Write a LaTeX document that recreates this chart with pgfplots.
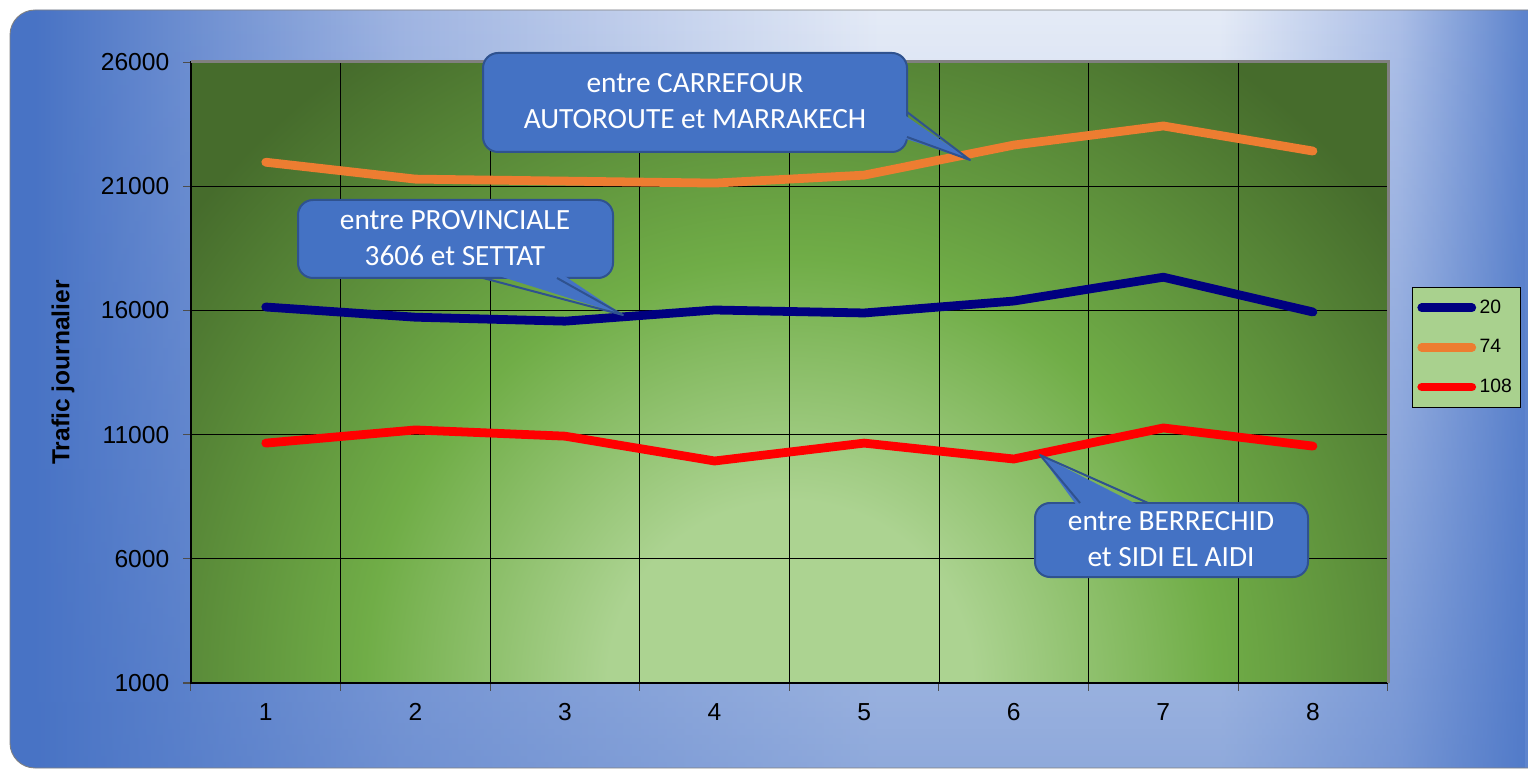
\documentclass[border=0pt]{standalone}
\usepackage{fontspec}
\setmainfont{Liberation Sans}
\newfontfamily\calfont{Carlito}
\usepackage{pgfplots}
\pgfplotsset{compat=1.18}
\usetikzlibrary{fadings}

\definecolor{bgBlue}{RGB}{72,115,197}
\definecolor{bgA}{RGB}{160,181,226}
\definecolor{bgLight}{RGB}{230,236,247}
\definecolor{bgB}{RGB}{172,191,231}
\definecolor{bgC}{RGB}{92,131,205}
\definecolor{gDark}{RGB}{70,108,44}
\definecolor{gMid}{RGB}{112,173,71}
\definecolor{gLight}{RGB}{172,211,145}
\definecolor{cFill}{RGB}{68,114,196}
\definecolor{cEdge}{RGB}{47,82,143}
\definecolor{sNavy}{RGB}{0,0,128}
\definecolor{sOrange}{RGB}{237,125,49}
\definecolor{sRed}{RGB}{255,0,0}
\definecolor{legFill}{RGB}{169,209,142}

% the 25bp..75bp part is stretched over the frame width
\pgfdeclarehorizontalshading{bgsweep}{100bp}{color(0bp)=(bgBlue); color(26bp)=(bgBlue); color(38.1bp)=(bgA); color(53.8bp)=(bgLight); color(64.9bp)=(bgLight); color(70.8bp)=(bgB); color(75bp)=(bgC); color(100bp)=(bgC)}
\pgfdeclareradialshading{greenglow}{\pgfpoint{0bp}{0bp}}{color(0bp)=(gLight); color(6bp)=(gLight); color(14bp)=(gMid); color(25bp)=(gDark); color(50bp)=(gDark)}
\tikzfading[name=fadeup, bottom color=transparent!0, top color=transparent!100]

% daily traffic per section
\pgfplotstableread{
x  s20   s74   s108
1  16140 21970 10660
2  15730 21290 11190
3  15570 21210 10940
4  16020 21130 9940
5  15900 21450 10660
6  16380 22660 10020
7  17340 23430 11270
8  15940 22420 10540
}\trafic

\begin{document}
\begin{tikzpicture}
% 1 unit = 1 px of the reference, y measured from the bottom
\begin{scope}[x=0.02cm,y=0.02cm]
\useasboundingbox (0,0) rectangle (1528,768);
\clip (0,0) rectangle (1528,768);
\fill[white] (0,0) rectangle (1528,768);
\begin{scope}
\path[clip, rounded corners=5mm] (10,0) rectangle (1580,758);
\shade[shading=bgsweep] (0,0) rectangle (1528,768);
\fill[bgBlue, path fading=fadeup, fill opacity=0.55] (0,0) rectangle (1528,768);
\end{scope}
\draw[gray, line width=0.5pt, rounded corners=5mm] (10,0) rectangle (1580,758);
% plot area glow
\begin{scope}
\clip (191,85) rectangle (1388,706);
\fill[gDark] (191,85) rectangle (1388,706);
\shade[shading=greenglow] (790,85) circle (760);
\end{scope}
\end{scope}

\begin{axis}[
  at={(3.82cm,1.70cm)}, anchor=south west,
  width=23.94cm, height=12.42cm, scale only axis,
  xmin=0.5, xmax=8.5, ymin=1000, ymax=26000,
  xtick={1,...,8}, ytick={1000,6000,...,26000},
  minor xtick={0.5,1.5,...,8.5},
  scaled y ticks=false,
  xminorgrids, ymajorgrids,
  grid style={black, line width=0.5pt},
  minor grid style={black, line width=0.5pt},
  tick align=outside, tick pos=left,
  major x tick style={draw=none},
  major tick length=0.15cm, minor tick length=0.15cm,
  tick style={black!70, line width=0.6pt},
  axis line style={black, line width=0.8pt},
  /pgf/number format/assume math mode=true,
  /pgf/number format/1000 sep={},
  ticklabel style={font=\fontsize{14}{16}\selectfont},
  xticklabel style={yshift=-0.14cm},
  yticklabel style={xshift=-0.16cm},
  every axis y label/.style={at={(axis description cs:-0.107,0.5)}, rotate=90, anchor=center, font=\bfseries\fontsize{14}{16}\selectfont},
  ylabel={Trafic journalier},
  legend style={at={(1.02,0.6377)}, anchor=north west, fill=legFill, draw=black, line width=0.5pt,
    font=\fontsize{11}{13}\selectfont, row sep=9.4pt, inner xsep=3pt, inner ysep=5pt, cells={anchor=west}},
  legend image code/.code={\draw[#1, line cap=round] (0.08cm,0cm) -- (1.08cm,0cm);},
  every axis plot/.append style={line width=5pt, line cap=round, line join=round, no marks},
  clip=false,
]
\addplot[sNavy] table[x=x, y=s20] {\trafic};
\addlegendentry{20}
\addplot[sOrange] table[x=x, y=s74] {\trafic};
\addlegendentry{74}
\addplot[sRed] table[x=x, y=s108] {\trafic};
\addlegendentry{108}
\end{axis}

\begin{scope}[x=0.02cm,y=0.02cm]
\draw[gray, line width=0.6mm] (191,706) -- (1388,706) -- (1388,85);
% callout 1
\filldraw[fill=cFill, draw=cEdge, line width=0.4mm, rounded corners=3mm] (483,616) rectangle (907,715);
\fill[cFill] (900,656) -- (970,608) -- (900,631) -- cycle;
\draw[cEdge, line width=0.4mm, line join=round] (907,656) -- (970,608) -- (907,631);
\node[font=\calfont\fontsize{16.7}{20.5}\selectfont, text=white, align=center] at (695,667) {entre CARREFOUR\\AUTOROUTE et MARRAKECH};
% callout 2
\filldraw[fill=cFill, draw=cEdge, line width=0.4mm, rounded corners=3mm] (298,490) rectangle (613,568);
\fill[cFill] (483,497) -- (623,453) -- (557,497) -- cycle;
\draw[cEdge, line width=0.4mm, line join=round] (483,490) -- (623,453) -- (557,490);
\node[font=\calfont\fontsize{16.7}{20.5}\selectfont, text=white, align=center] at (455,530) {entre PROVINCIALE\\3606 et SETTAT};
% callout 3
\filldraw[fill=cFill, draw=cEdge, line width=0.4mm, rounded corners=3mm] (1035,191) rectangle (1308,265);
\fill[cFill] (1080,258) -- (1040,313) -- (1148,258) -- cycle;
\draw[cEdge, line width=0.4mm, line join=round] (1080,265) -- (1040,313) -- (1148,265);
\node[font=\calfont\fontsize{16.7}{20.5}\selectfont, text=white, align=center] at (1171,229) {entre BERRECHID\\et SIDI EL AIDI};
\end{scope}
\end{tikzpicture}
\end{document}
